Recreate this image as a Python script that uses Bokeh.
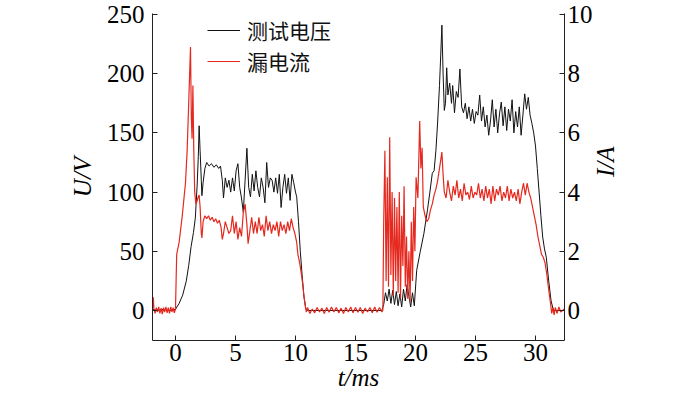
import math
from bokeh.plotting import figure
from bokeh.models import Range1d, LinearAxis, FixedTicker, Legend, LegendItem
from bokeh.embed import file_html
from bokeh.resources import INLINE

# ---------------- data ----------------
# test voltage U (V)
t_u = [-1.9, -1.5, -1.0, -0.5, 0.0, 0.3, 0.6, 0.9, 1.1, 1.3, 1.5, 1.65, 1.8, 1.9, 1.97,
       2.05, 2.15, 2.2, 2.3, 2.45, 2.6, 2.8, 3.0, 3.2, 3.4, 3.6, 3.75, 3.9, 4.0, 4.15,
       4.3, 4.45, 4.6, 4.75, 4.9, 5.05, 5.2, 5.35, 5.5, 5.65, 5.8, 5.95, 6.1, 6.25, 6.4,
       6.55, 6.7, 6.85, 7.0, 7.15, 7.3, 7.45, 7.6, 7.75, 7.9, 8.05, 8.2, 8.35, 8.5, 8.65,
       8.8, 8.95, 9.1, 9.25, 9.4, 9.55, 9.7, 9.85, 10.0, 10.1, 10.25, 10.4, 10.55, 10.7,
       10.85, 11.0, 17.2,
       17.35, 17.5, 17.65, 17.8, 17.95, 18.1, 18.25, 18.4, 18.55, 18.7, 18.85, 19.0, 19.15,
       19.3, 19.45, 19.6, 19.75, 19.9, 20.1, 20.4, 20.7, 21.0, 21.2, 21.4, 21.55, 21.7,
       21.85, 22.0, 22.1, 22.2, 22.3, 22.4, 22.5, 22.6, 22.7, 22.85, 23.0, 23.1, 23.25,
       23.4, 23.55, 23.7, 23.85, 24.0, 24.15, 24.3, 24.45, 24.6, 24.75, 24.9, 25.05, 25.2,
       25.35, 25.5, 25.65, 25.8, 25.95, 26.1, 26.25, 26.4, 26.55, 26.7, 26.85, 27.0, 27.15,
       27.3, 27.45, 27.6, 27.75, 27.9, 28.05, 28.2, 28.35, 28.5, 28.65, 28.8, 28.95, 29.1,
       29.25, 29.4, 29.55, 29.7, 29.85, 30.0, 30.15, 30.3, 30.45, 30.6, 30.75, 30.9, 31.1,
       31.3, 31.5, 32.4]
u_v = [1, 0, 1, 0, 1, 6, 13, 25, 38, 54, 66, 78, 105, 130, 156,
       135, 110, 97, 108, 120, 125, 122, 124, 121, 123, 120, 122, 110, 95, 112,
       104, 110, 100, 112, 101, 118, 124, 104, 95, 83, 110, 137, 104, 96, 115,
       101, 118, 104, 96, 112, 104, 91, 125, 104, 112, 110, 100, 112, 99, 115,
       87, 104, 115, 99, 112, 93, 115, 108, 100, 96, 75, 50, 30, 12,
       2, 0, 0,
       5, 15, 8, 18, 6, 17, 5, 16, 4, 14, 3, 18, 8,
       22, 12, 3, 15, 4, 34, 50, 65, 85, 100, 116, 118, 135,
       160, 190, 215, 241, 200, 169, 175, 205, 182, 192, 175, 190, 167,
       185, 180, 204, 172, 167, 175, 162, 172, 160, 170, 158, 168, 165,
       182, 160, 172, 155, 165, 148, 160, 178, 155, 170, 150, 166, 176,
       156, 172, 152, 170, 160, 178, 150, 168, 155, 172, 148, 165, 183,
       170, 180, 165, 158, 150, 139, 120, 100, 80, 62, 52, 45, 25,
       8, 0, 0]

# leakage current I (A)
t_i = [-1.9, -1.85, -1.8, -1.7, -1.6, -1.5, -1.4, -1.3, -1.2, -1.1, -1.0, -0.9, -0.8,
       -0.7, -0.6, -0.5, -0.4, -0.3, -0.2, -0.1, 0.0, 0.05, 0.1, 0.3, 0.55, 0.83, 0.97,
       1.1, 1.25, 1.32, 1.38, 1.45, 1.52, 1.6, 1.7, 1.8, 1.9, 1.97, 2.05,
       2.15, 2.2, 2.3, 2.45, 2.6, 2.75, 2.9, 3.05, 3.2, 3.35, 3.5, 3.65, 3.8, 3.9, 4.0,
       4.15, 4.3, 4.45, 4.6, 4.75, 4.9, 5.05, 5.2, 5.35, 5.5, 5.65, 5.8, 5.95, 6.05, 6.2,
       6.35, 6.5, 6.65, 6.8, 6.95, 7.1, 7.25, 7.4, 7.55, 7.7, 7.85, 8.0, 8.15, 8.3, 8.45,
       8.6, 8.75, 8.9, 9.05, 9.2, 9.35, 9.5, 9.65, 9.8, 9.95, 10.1, 10.2, 10.35, 10.5,
       10.6, 10.7, 10.8, 10.9,
       11.0, 11.2, 11.4, 11.6, 11.8, 12.0, 12.2, 12.4, 12.6, 12.8, 13.0, 13.2, 13.4, 13.6,
       13.8, 14.0, 14.2, 14.4, 14.6, 14.8, 15.0, 15.2, 15.4, 15.6, 15.8, 16.0, 16.2, 16.4,
       16.6, 16.8, 17.0, 17.2, 17.28,
       17.35, 17.45, 17.55, 17.65, 17.75, 17.85, 17.95, 18.05, 18.15, 18.25, 18.35, 18.45,
       18.55, 18.65, 18.75, 18.85, 18.95, 19.05, 19.15, 19.25, 19.35, 19.45, 19.55, 19.65,
       19.75, 19.85, 19.95, 20.05, 20.2, 20.35, 20.45, 20.55, 20.65, 20.8, 20.95, 21.1,
       21.25, 21.4, 21.55, 21.7, 21.85, 22.0, 22.2, 22.3, 22.4, 22.55, 22.7, 22.85, 23.0,
       23.15, 23.3, 23.45, 23.6, 23.75, 23.9, 24.05, 24.2, 24.35, 24.5, 24.65, 24.8, 24.95,
       25.1, 25.25, 25.4, 25.55, 25.7, 25.85, 26.0, 26.15, 26.3, 26.45, 26.6, 26.75, 26.9,
       27.05, 27.2, 27.35, 27.5, 27.65, 27.8, 27.95, 28.1, 28.25, 28.4, 28.55, 28.7, 28.85,
       29.0, 29.15, 29.3, 29.45, 29.6, 29.75, 29.9, 30.05, 30.2, 30.35, 30.5, 30.65, 30.8,
       30.95, 31.1, 31.25, 31.35, 31.45, 31.55, 31.65, 31.8, 31.95, 32.1, 32.4]
i_a = [0.1, 0.45, 0.05, -0.1, 0.1, -0.05, 0.12, -0.1, 0.08, -0.12, 0.1, -0.05, 0.12,
       -0.08, 0.1, -0.1, 0.12, -0.05, 0.1, -0.08, 0.05, 1.0, 1.9, 2.3, 3.15, 4.3, 5.4,
       7.0, 8.9, 6.5, 5.8, 7.6, 5.5, 4.0, 3.6, 3.7, 3.85, 3.9, 3.5,
       2.6, 2.45, 3.0, 3.2, 3.1, 3.2, 3.05, 3.15, 3.0, 3.1, 2.95, 3.05, 2.8, 2.4, 2.6,
       3.0, 2.8, 2.6, 2.7, 3.2, 2.6, 3.0, 2.4, 2.8, 2.5, 3.3, 3.6, 2.9, 2.26, 2.7,
       3.15, 2.6, 3.0, 2.6, 3.15, 2.7, 2.9, 2.5, 3.2, 2.7, 3.0, 2.6, 2.9, 2.7, 3.0,
       2.5, 3.0, 2.7, 2.9, 2.6, 3.0, 2.7, 3.1, 2.8, 2.6, 2.3, 1.9, 1.6, 1.2,
       0.9, 0.5, 0.2, -0.05,
       0.1, -0.1, 0.05, -0.08, 0.1, -0.05, 0.08, -0.1, 0.1, -0.06, 0.12, -0.05, 0.1, -0.08,
       0.08, -0.1, 0.1, -0.05, 0.12, -0.08, 0.1, -0.06, 0.1, -0.1, 0.08, -0.05, 0.1, -0.08,
       0.12, -0.06, 0.1, -0.05, 0.0,
       3.0, 5.4, 1.0, 4.5, 0.8, 5.85, 1.2, 4.0, 0.5, 3.8, 1.0, 3.5,
       0.6, 4.0, 0.4, 3.2, 1.5, 4.2, 0.8, 2.5, 0.4, 2.0, 0.3, 3.0,
       1.0, 3.5, 2.0, 4.5, 3.8, 6.4, 4.8, 5.5, 3.5, 3.2, 3.0, 3.1,
       3.4, 3.6, 3.9, 4.1, 4.4, 4.8, 5.35, 4.6, 4.0, 3.8, 4.4, 4.0, 3.7,
       4.2, 3.9, 4.4, 3.8, 4.1, 3.7, 4.3, 3.9, 4.0, 3.75, 4.2, 3.8, 4.0,
       3.9, 4.3, 3.8, 4.1, 3.7, 4.2, 3.8, 4.1, 3.6, 4.2, 3.7, 4.1, 3.9,
       4.2, 3.7, 4.0, 3.8, 4.2, 3.7, 4.1, 3.8, 4.0, 3.7, 4.1, 3.6, 4.0,
       4.3, 3.9, 4.3, 4.0, 3.8, 3.5, 3.2, 2.9, 2.5, 2.2, 1.9, 1.8, 1.6,
       1.2, 0.7, 0.25, -0.1, 0.1, -0.15, 0.1, -0.1, 0.12, -0.05, 0.05]

x_ticks = [0, 5, 10, 15, 20, 25, 30]
u_ticks = [0, 50, 100, 150, 200, 250]
i_ticks = [0, 2, 4, 6, 8, 10]
legend_labels = ["测试电压", "漏电流"]
axis_titles = {"x": "t/ms", "u": "U/V", "i": "I/A"}

# ---------------- figure ----------------
SERIF = "Liberation Serif"
p = figure(width=700, height=397, output_backend="svg", toolbar_location=None,
           x_range=Range1d(-1.9167, 32.417), y_range=Range1d(-25.34, 250.84),
           min_border_left=152, min_border_right=136, min_border_top=13,
           min_border_bottom=57)
p.extra_y_ranges = {"i": Range1d(-1.0136, 10.0336)}
p.xgrid.visible = False
p.ygrid.visible = False
p.outline_line_color = None
p.background_fill_color = "white"
p.border_fill_color = "white"

right_axis = LinearAxis(y_range_name="i")
p.add_layout(right_axis, "right")

for ax in [p.xaxis[0], p.yaxis[0], right_axis]:
    ax.axis_line_color = "#222222"
    ax.axis_line_width = 1
    ax.major_tick_line_color = "#222222"
    ax.major_tick_in = 5
    ax.major_tick_out = 0
    ax.minor_tick_line_color = None
    ax.major_label_text_font = SERIF
    ax.major_label_text_font_size = "25px"
    ax.major_label_text_color = "black"
    ax.axis_label_text_font = SERIF
    ax.axis_label_text_font_size = "25px"
    ax.axis_label_text_font_style = "italic"
    ax.axis_label_text_color = "black"

p.xaxis[0].ticker = FixedTicker(ticks=x_ticks)
p.yaxis[0].ticker = FixedTicker(ticks=u_ticks)
right_axis.ticker = FixedTicker(ticks=i_ticks)
p.xaxis[0].major_label_standoff = 3
p.yaxis[0].major_label_standoff = 8
right_axis.major_label_standoff = 3

p.xaxis[0].axis_label = axis_titles["x"]
p.yaxis[0].axis_label = axis_titles["u"]
right_axis.axis_label = axis_titles["i"]
right_axis.axis_label_orientation = math.pi / 2
p.xaxis[0].axis_label_standoff = 0
p.yaxis[0].axis_label_standoff = 8
right_axis.axis_label_standoff = 10

r_u = p.line(t_u, u_v, line_color="#111111", line_width=1.0)
r_i = p.line(t_i, i_a, line_color="#e5291f", line_width=1.2, y_range_name="i")


def make_legend(label, renderer, y):
    lg = Legend(items=[LegendItem(label=label, renderers=[renderer])], location=(55, y))
    lg.label_text_font = "Noto Sans CJK SC"
    lg.label_text_font_size = "21px"
    lg.label_text_color = "#111111"
    lg.glyph_width = 33
    lg.glyph_height = 30
    lg.label_height = 30
    lg.label_standoff = 7
    lg.padding = 0
    lg.margin = 0
    lg.border_line_color = None
    lg.background_fill_alpha = 0
    return lg


p.add_layout(make_legend(legend_labels[0], r_u, 295))
p.add_layout(make_legend(legend_labels[1], r_i, 264))

open("out.html", "w").write(file_html(p, INLINE))
